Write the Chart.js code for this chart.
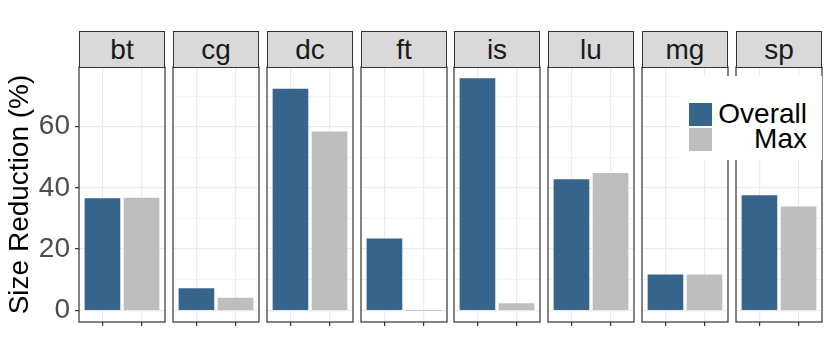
<!DOCTYPE html>
<html>
<head>
<meta charset="utf-8">
<script src="https://cdn.jsdelivr.net/npm/chart.js@4.4.0/dist/chart.umd.min.js"></script>
<style>
  html, body { margin: 0; padding: 0; background: #fff; }
  #wrap { position: relative; width: 830px; height: 363px; overflow: hidden; font-family: "Liberation Sans", Arial, sans-serif; }
  .panel { position: absolute; top: 0; height: 363px; }
  .strip { position: absolute; top: 31px; height: 37px; box-sizing: border-box; border: 1px solid #333; background: #d9d9d9;
           color: #1a1a1a; font-size: 28px; line-height: 35px; text-align: center; }
  #legend { position: absolute; left: 680px; top: 76px; width: 142px; height: 84px; background: #fff; z-index: 5; }
  .key { position: absolute; left: 9px; width: 23px; height: 23px; }
  .lab { position: absolute; right: 15px; font-size: 28px; line-height: 25px; color: #000; }
</style>
</head>
<body>
<div id="wrap">
  <div id="legend">
    <div class="key" style="top:27px;background:#36648b"></div>
    <div class="lab" style="top:25px">Overall</div>
    <div class="key" style="top:52px;background:#bebebe"></div>
    <div class="lab" style="top:50px">Max</div>
  </div>
</div>
<script>
// benchmark panels and the two reduction series
const categories = ['bt', 'cg', 'dc', 'ft', 'is', 'lu', 'mg', 'sp'];
const overall = [36.5, 7.1, 72.3, 23.4, 75.7, 42.7, 11.6, 37.5];
const maxRed = [36.7, 4.0, 58.3, 0.0, 2.2, 44.8, 11.6, 33.8];
const seriesNames = ['Overall', 'Max'];
const yTicks = [0, 10, 20, 30, 40, 50, 60, 70];

const BLUE = '#36648b';
const GRAY = '#bebebe';
const wrap = document.getElementById('wrap');

// outline round each facet panel
const borderPlugin = {
  id: 'panelBorder',
  afterDraw(chart) {
    const a = chart.chartArea, c = chart.ctx;
    c.save();
    c.strokeStyle = '#333';
    c.lineWidth = 1.2;
    c.strokeRect(a.left, a.top, a.right - a.left, a.bottom - a.top);
    c.restore();
  }
};

categories.forEach(function (name, i) {
  const first = i === 0;
  const panelLeft = Math.round(79 + i * 93.85);
  const panelW = 86;
  const yW = first ? 79 : 0;
  const padL = first ? 0 : 2;
  const divLeft = panelLeft - yW - padL;
  const w = yW + padL + panelW + 2;

  const div = document.createElement('div');
  div.className = 'panel';
  div.style.left = divLeft + 'px';
  div.style.width = w + 'px';
  const cv = document.createElement('canvas');
  cv.width = w; cv.height = 363;
  div.appendChild(cv);
  wrap.appendChild(div);

  const strip = document.createElement('div');
  strip.className = 'strip';
  strip.style.left = panelLeft + 'px';
  strip.style.width = panelW + 'px';
  strip.textContent = name;
  wrap.appendChild(strip);

  new Chart(cv.getContext('2d'), {
    type: 'bar',
    data: {
      datasets: [
        { label: seriesNames[0], data: [{ x: 1, y: overall[i] }], backgroundColor: BLUE },
        { label: seriesNames[1], data: [{ x: 2, y: maxRed[i] }], backgroundColor: GRAY }
      ]
    },
    options: {
      responsive: false,
      animation: false,
      devicePixelRatio: 1,
      barThickness: 35,
      layout: { padding: { top: 67, left: padL, right: 2, bottom: 0 } },
      plugins: { legend: { display: false }, tooltip: { enabled: false } },
      scales: {
        x: {
          type: 'linear', min: 0.4, max: 2.6,
          offset: false,
          stacked: true,
          afterBuildTicks: s => { s.ticks = [{ value: 1 }, { value: 2 }]; },
          afterFit: s => { s.height = 41; },
          ticks: { display: false },
          grid: { offset: false, color: '#ebebeb', lineWidth: 1.2, drawTicks: true, tickLength: 4, tickColor: '#333', tickWidth: 1.2 },
          border: { display: false }
        },
        y: {
          min: -3.8, max: 79.5,
          afterBuildTicks: s => { s.ticks = yTicks.map(v => ({ value: v })); },
          afterFit: s => { s.width = yW; },
          ticks: {
            display: first,
            padding: 5,
            color: '#4d4d4d',
            font: { family: 'Liberation Sans', size: 28 },
            callback: v => (v % 20 === 0 ? v : '')
          },
          grid: {
            color: ctx => (ctx.tick && ctx.tick.value % 20 === 0 ? '#ebebeb' : '#f2f2f2'),
            lineWidth: ctx => (ctx.tick && ctx.tick.value % 20 === 0 ? 1.3 : 1),
            drawTicks: first,
            tickLength: 4,
            tickWidth: 1.2,
            tickColor: ctx => (ctx.tick && ctx.tick.value % 20 === 0 ? '#333' : 'rgba(0,0,0,0)')
          },
          border: { display: false },
          title: {
            display: first,
            text: 'Size Reduction (%)',
            color: '#000',
            font: { family: 'Liberation Sans', size: 28 },
            padding: { top: 3, bottom: 0 }
          }
        }
      }
    },
    plugins: [borderPlugin]
  });
});
</script>
</body>
</html>
